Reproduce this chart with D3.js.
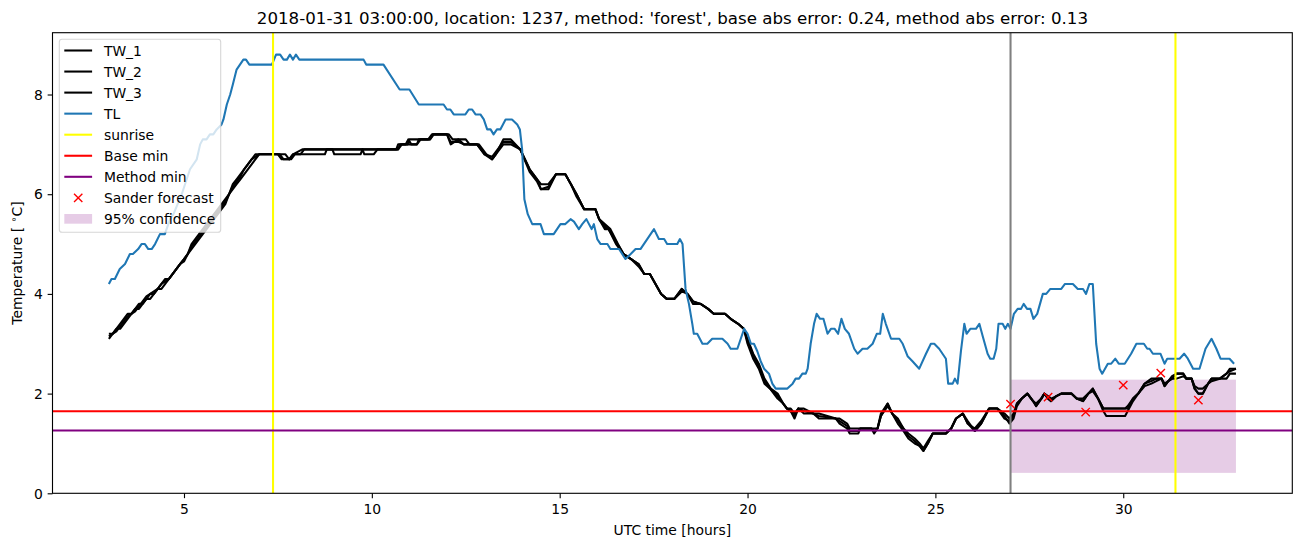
<!DOCTYPE html>
<html><head><meta charset="utf-8">
<script src="https://cdn.jsdelivr.net/npm/d3@7"></script>
<style>body{margin:0;background:#fff} svg{display:block} text{font-family:"DejaVu Sans",sans-serif;fill:#000}</style>
</head><body><svg id="c" width="1302" height="547"></svg>
<script>
const titleText = "2018-01-31 03:00:00, location: 1237, method: 'forest', base abs error: 0.24, method abs error: 0.13";
const xTicks = [5, 10, 15, 20, 25, 30];
const yTicks = [0, 2, 4, 6, 8];
const legendLabels = ["TW_1", "TW_2", "TW_3", "TL", "sunrise", "Base min", "Method min", "Sander forecast", "95% confidence"];
const sunriseHours = [7.37, 31.39];
const forecastStart = 27.0;
const baseMin = 1.646;
const methodMin = 1.26;
const confidence = [27.0, 33.0, 0.41, 2.28]; // start, end, low, high
const forecastHours = [27, 28, 29, 30, 31, 32];
const forecastValues = [1.79, 1.93, 1.63, 2.17, 2.41, 1.87];

const tw1 = [[3.0,3.1],[3.1,3.2],[3.2,3.3],[3.3,3.4],[3.4,3.5],[3.5,3.6],[3.6,3.6],[3.7,3.7],[3.8,3.8],[3.9,3.8],[4.0,3.9],[4.1,4.0],[4.2,4.0],[4.3,4.1],[4.4,4.2],[4.5,4.3],[4.6,4.3],[4.7,4.4],[4.8,4.5],[4.9,4.6],[5.0,4.7],[5.1,4.8],[5.2,4.9],[5.3,5.0],[5.4,5.1],[5.5,5.2],[5.6,5.3],[5.7,5.4],[5.8,5.5],[5.9,5.6],[6.0,5.7],[6.1,5.8],[6.2,6.0],[6.3,6.1],[6.4,6.2],[6.5,6.3],[6.6,6.4],[6.7,6.5],[6.8,6.6],[6.9,6.7],[7.0,6.8],[7.5,6.8],[7.6,6.7],[7.8,6.7],[7.9,6.8],[8.15,6.9],[10.7,6.9],[10.75,7.0],[10.95,7.0],[11.0,7.1],[11.5,7.1],[11.6,7.2],[12.0,7.2],[12.1,7.0],[12.3,7.1],[12.45,7.0],[12.8,7.0],[13.0,6.8],[13.2,6.7],[13.3,6.8],[13.5,7.1],[13.7,7.1],[13.95,6.9],[14.2,6.5],[14.4,6.3],[14.5,6.1],[14.7,6.1],[14.9,6.4],[15.15,6.4],[15.3,6.2],[15.45,6.0],[15.65,5.7],[15.95,5.7],[16.05,5.5],[16.2,5.3],[16.3,5.3],[16.5,5.0],[16.7,4.8],[16.9,4.7],[17.1,4.6],[17.25,4.4],[17.4,4.4],[17.55,4.2],[17.7,4.0],[17.85,3.9],[18.05,3.9],[18.25,4.1],[18.4,4.0],[18.55,3.85],[18.75,3.8],[18.95,3.7],[19.1,3.6],[19.4,3.6],[19.55,3.5],[19.75,3.4],[19.9,3.3],[20.0,3.0],[20.15,2.7],[20.3,2.5],[20.45,2.2],[20.6,2.1],[20.8,1.9],[20.95,1.8],[21.05,1.7],[21.15,1.65],[21.25,1.5],[21.35,1.7],[21.5,1.6],[21.75,1.6],[21.9,1.5],[22.35,1.5],[22.45,1.4],[22.65,1.3],[22.72,1.2],[22.95,1.2],[23.0,1.3],[23.3,1.3],[23.37,1.2],[23.46,1.3],[23.55,1.55],[23.73,1.8],[23.85,1.6],[24.0,1.4],[24.15,1.25],[24.28,1.1],[24.45,1.0],[24.58,0.95],[24.68,0.85],[24.8,1.0],[24.93,1.2],[25.28,1.2],[25.42,1.3],[25.55,1.5],[25.73,1.6],[25.86,1.4],[26.05,1.25],[26.22,1.4],[26.43,1.7],[26.65,1.7],[26.84,1.5],[26.97,1.45],[27.08,1.55],[27.17,1.8],[27.3,1.9],[27.45,2.0],[27.6,1.85],[27.68,1.75],[27.82,1.9],[27.9,2.0],[28.0,1.9],[28.08,1.85],[28.22,1.95],[28.35,2.0],[28.62,2.0],[28.76,1.9],[28.93,1.85],[29.07,2.0],[29.19,2.1],[29.33,1.9],[29.47,1.7],[30.05,1.7],[30.12,1.75],[30.26,1.9],[30.4,2.0],[30.57,2.2],[30.75,2.25],[30.88,2.3],[31.02,2.3],[31.1,2.15],[31.2,2.25],[31.3,2.3],[31.42,2.4],[31.6,2.4],[31.68,2.3],[31.82,2.3],[31.9,2.1],[32.0,2.0],[32.12,2.0],[32.26,2.2],[32.35,2.3],[32.57,2.3],[32.75,2.4],[32.84,2.5],[33.0,2.5]];

const tw2 = [[3.0,3.2],[3.1,3.2],[3.2,3.3],[3.3,3.3],[3.4,3.4],[3.5,3.5],[3.6,3.6],[3.7,3.7],[3.8,3.7],[3.9,3.8],[4.0,3.9],[4.1,3.9],[4.2,4.0],[4.3,4.1],[4.4,4.1],[4.5,4.2],[4.6,4.3],[4.7,4.4],[4.8,4.5],[4.9,4.6],[5.0,4.7],[5.1,4.8],[5.2,5.0],[5.3,5.1],[5.4,5.2],[5.5,5.3],[5.6,5.4],[5.7,5.5],[5.8,5.6],[5.9,5.7],[6.0,5.8],[6.1,5.9],[6.2,6.0],[6.3,6.2],[6.4,6.3],[6.5,6.4],[6.6,6.5],[6.7,6.6],[6.8,6.7],[6.9,6.8],[7.7,6.8],[7.8,6.7],[7.9,6.8],[8.1,6.8],[8.2,6.9],[10.65,6.9],[10.7,7.0],[10.9,7.0],[10.97,7.1],[11.05,7.0],[11.2,7.0],[11.25,7.1],[11.55,7.1],[11.65,7.2],[12.05,7.2],[12.15,7.1],[12.5,7.1],[12.6,7.0],[12.85,7.0],[13.05,6.8],[13.2,6.7],[13.3,6.8],[13.5,7.0],[13.7,7.0],[13.95,6.9],[14.2,6.5],[14.4,6.3],[14.5,6.2],[14.7,6.2],[14.9,6.4],[15.15,6.4],[15.3,6.2],[15.45,6.0],[15.65,5.7],[15.95,5.7],[16.05,5.5],[16.2,5.4],[16.35,5.3],[16.55,5.0],[16.7,4.8],[16.9,4.7],[17.1,4.6],[17.25,4.4],[17.4,4.4],[17.55,4.2],[17.7,4.0],[17.85,3.9],[18.05,3.9],[18.25,4.1],[18.4,4.0],[18.55,3.8],[18.75,3.8],[18.95,3.7],[19.1,3.6],[19.4,3.6],[19.55,3.5],[19.75,3.4],[19.9,3.3],[20.0,3.1],[20.15,2.8],[20.3,2.6],[20.45,2.3],[20.62,2.1],[20.8,2.0],[20.95,1.8],[21.05,1.7],[21.15,1.7],[21.25,1.6],[21.35,1.7],[21.5,1.7],[21.75,1.6],[21.9,1.6],[22.35,1.5],[22.45,1.5],[22.65,1.4],[22.72,1.3],[22.95,1.3],[23.0,1.3],[23.3,1.3],[23.37,1.3],[23.46,1.3],[23.55,1.6],[23.73,1.8],[23.85,1.6],[24.0,1.5],[24.15,1.3],[24.28,1.2],[24.45,1.1],[24.58,1.0],[24.68,0.9],[24.8,1.05],[24.93,1.2],[25.28,1.2],[25.42,1.3],[25.55,1.5],[25.73,1.6],[25.86,1.4],[26.05,1.3],[26.22,1.45],[26.43,1.7],[26.65,1.7],[26.84,1.6],[26.97,1.5],[27.08,1.6],[27.17,1.8],[27.3,1.9],[27.45,2.0],[27.6,1.85],[27.68,1.8],[27.82,1.9],[27.9,2.0],[28.0,1.95],[28.08,1.9],[28.22,1.95],[28.35,2.0],[28.62,2.0],[28.76,1.9],[28.93,1.9],[29.07,2.0],[29.19,2.05],[29.33,1.9],[29.47,1.65],[29.55,1.55],[30.05,1.55],[30.12,1.65],[30.26,1.85],[30.4,2.0],[30.57,2.15],[30.75,2.2],[30.88,2.25],[31.02,2.3],[31.1,2.2],[31.2,2.25],[31.3,2.3],[31.42,2.3],[31.6,2.35],[31.68,2.3],[31.82,2.3],[31.9,2.15],[32.0,2.1],[32.12,2.1],[32.26,2.2],[32.35,2.25],[32.57,2.3],[32.75,2.3],[32.84,2.4],[33.0,2.4]];

const tw3 = [[3.0,3.15],[3.1,3.2],[3.2,3.25],[3.3,3.35],[3.4,3.45],[3.5,3.55],[3.6,3.6],[3.7,3.65],[3.8,3.75],[3.9,3.85],[4.0,3.95],[4.1,4.0],[4.2,4.05],[4.3,4.1],[4.4,4.2],[4.5,4.25],[4.6,4.3],[4.7,4.4],[4.8,4.5],[4.9,4.6],[5.0,4.65],[5.1,4.8],[5.2,4.95],[5.3,5.05],[5.4,5.15],[5.5,5.25],[5.6,5.35],[5.7,5.45],[5.8,5.55],[5.9,5.65],[6.0,5.75],[6.1,5.85],[6.2,6.0],[6.3,6.15],[6.4,6.25],[6.5,6.35],[6.6,6.5],[6.7,6.6],[6.8,6.7],[6.9,6.75],[7.0,6.8],[7.55,6.8],[7.65,6.7],[7.85,6.7],[7.95,6.8],[8.75,6.8],[8.8,6.9],[8.95,6.9],[9.0,6.8],[9.7,6.8],[9.75,6.9],[9.8,6.8],[10.05,6.8],[10.15,6.9],[10.7,6.9],[10.8,7.0],[11.2,7.0],[11.3,7.1],[11.55,7.1],[11.62,7.2],[12.0,7.2],[12.1,7.05],[12.3,7.05],[12.45,7.0],[12.8,7.0],[13.0,6.8],[13.2,6.75],[13.3,6.85],[13.5,7.05],[13.7,7.05],[13.95,6.9],[14.2,6.45],[14.4,6.25],[14.5,6.1],[14.7,6.15],[14.9,6.4],[15.15,6.4],[15.3,6.2],[15.45,5.95],[15.65,5.7],[15.95,5.7],[16.05,5.5],[16.2,5.35],[16.3,5.3],[16.5,5.05],[16.7,4.8],[16.9,4.7],[17.1,4.55],[17.25,4.4],[17.4,4.4],[17.55,4.2],[17.7,4.0],[17.85,3.9],[18.05,3.9],[18.25,4.05],[18.4,4.0],[18.55,3.85],[18.75,3.8],[18.95,3.7],[19.1,3.6],[19.4,3.6],[19.55,3.5],[19.75,3.4],[19.9,3.3],[20.0,3.05],[20.15,2.75],[20.3,2.55],[20.45,2.25],[20.6,2.1],[20.8,1.95],[20.95,1.8],[21.05,1.7],[21.15,1.65],[21.25,1.55],[21.35,1.7],[21.5,1.65],[21.75,1.6],[21.9,1.55],[22.35,1.5],[22.45,1.45],[22.65,1.35],[22.72,1.25],[22.95,1.25],[23.0,1.3],[23.3,1.3],[23.37,1.25],[23.46,1.3],[23.55,1.55],[23.73,1.75],[23.85,1.6],[24.0,1.45],[24.15,1.3],[24.28,1.15],[24.45,1.05],[24.58,0.95],[24.68,0.85],[24.8,1.0],[24.93,1.2],[25.28,1.2],[25.42,1.3],[25.55,1.5],[25.73,1.6],[25.86,1.45],[26.05,1.25],[26.22,1.4],[26.43,1.7],[26.65,1.7],[26.84,1.55],[26.97,1.4],[27.08,1.5],[27.17,1.75],[27.3,1.9],[27.45,2.0],[27.6,1.85],[27.68,1.75],[27.82,1.9],[27.9,2.0],[28.0,1.9],[28.08,1.85],[28.22,1.95],[28.35,2.0],[28.62,2.0],[28.76,1.9],[28.93,1.85],[29.07,2.0],[29.19,2.1],[29.33,1.9],[29.47,1.7],[30.05,1.7],[30.12,1.7],[30.26,1.9],[30.4,2.0],[30.57,2.2],[30.75,2.3],[30.88,2.3],[31.02,2.3],[31.1,2.15],[31.2,2.25],[31.3,2.35],[31.42,2.4],[31.6,2.4],[31.68,2.3],[31.82,2.3],[31.9,2.1],[32.0,2.0],[32.12,2.0],[32.26,2.2],[32.35,2.3],[32.57,2.3],[32.75,2.4],[32.84,2.45],[33.0,2.5]];

const tl = [[3.0,4.2],[3.07,4.3],[3.16,4.3],[3.29,4.5],[3.43,4.6],[3.56,4.8],[3.64,4.8],[3.78,4.9],[3.87,5.0],[3.96,5.0],[4.05,4.9],[4.14,4.9],[4.23,5.0],[4.36,5.2],[4.49,5.2],[4.63,5.5],[4.72,5.6],[4.94,6.0],[5.16,6.5],[5.34,6.7],[5.43,7.0],[5.5,7.1],[5.6,7.1],[5.69,7.2],[5.78,7.2],[5.87,7.3],[6.0,7.4],[6.05,7.5],[6.14,7.8],[6.23,8.0],[6.3,8.2],[6.4,8.5],[6.49,8.6],[6.58,8.7],[6.65,8.7],[6.74,8.6],[7.34,8.6],[7.45,8.8],[7.56,8.8],[7.65,8.7],[7.74,8.7],[7.82,8.8],[7.9,8.7],[7.98,8.8],[8.07,8.7],[9.78,8.7],[9.85,8.6],[10.31,8.6],[10.74,8.1],[11.0,8.1],[11.25,7.8],[11.91,7.8],[12.0,7.7],[12.09,7.7],[12.18,7.6],[12.49,7.6],[12.58,7.7],[12.67,7.7],[12.76,7.6],[12.89,7.6],[12.98,7.5],[13.07,7.3],[13.16,7.3],[13.24,7.2],[13.33,7.3],[13.42,7.3],[13.56,7.5],[13.73,7.5],[13.87,7.4],[13.94,7.3],[14.0,6.9],[14.06,5.9],[14.15,5.6],[14.27,5.4],[14.49,5.4],[14.58,5.2],[14.84,5.2],[15.02,5.4],[15.15,5.4],[15.29,5.5],[15.38,5.45],[15.51,5.3],[15.6,5.4],[15.71,5.5],[15.78,5.4],[15.85,5.3],[15.91,5.4],[16.0,5.1],[16.09,5.0],[16.27,5.0],[16.35,4.9],[16.58,4.9],[16.75,4.7],[16.89,4.8],[17.02,4.9],[17.15,4.9],[17.33,5.1],[17.51,5.3],[17.64,5.1],[17.78,5.1],[17.86,5.0],[18.13,5.0],[18.2,5.1],[18.27,5.0],[18.35,4.1],[18.44,3.8],[18.53,3.4],[18.57,3.2],[18.66,3.2],[18.8,3.0],[18.93,3.0],[19.06,3.1],[19.33,3.1],[19.47,3.0],[19.55,2.9],[19.73,2.9],[19.82,3.1],[19.91,3.3],[20.0,3.2],[20.09,3.0],[20.17,3.0],[20.26,2.85],[20.35,2.65],[20.44,2.5],[20.57,2.4],[20.66,2.2],[20.75,2.1],[21.06,2.1],[21.2,2.2],[21.28,2.3],[21.37,2.3],[21.46,2.4],[21.55,2.4],[21.6,2.5],[21.68,3.0],[21.77,3.4],[21.84,3.6],[21.93,3.5],[22.02,3.5],[22.13,3.2],[22.22,3.3],[22.32,3.3],[22.41,3.2],[22.5,3.5],[22.59,3.3],[22.7,3.2],[22.84,2.9],[22.93,2.8],[23.06,2.9],[23.19,2.9],[23.33,3.0],[23.44,3.2],[23.53,3.2],[23.6,3.6],[23.68,3.4],[23.82,3.1],[23.9,3.1],[24.04,3.1],[24.13,3.0],[24.26,2.75],[24.39,2.65],[24.57,2.5],[24.75,2.8],[24.88,3.0],[24.97,3.0],[25.1,2.9],[25.28,2.7],[25.34,2.2],[25.46,2.2],[25.52,2.3],[25.59,2.2],[25.68,2.85],[25.77,3.4],[25.83,3.2],[25.93,3.3],[26.08,3.3],[26.17,3.4],[26.26,3.15],[26.39,2.8],[26.46,2.7],[26.55,2.7],[26.62,2.9],[26.68,3.4],[26.79,3.4],[26.86,3.3],[26.93,3.4],[27.0,3.3],[27.09,3.6],[27.19,3.7],[27.28,3.7],[27.35,3.8],[27.44,3.7],[27.53,3.7],[27.61,3.5],[27.71,3.6],[27.86,4.0],[27.95,4.0],[28.06,4.1],[28.35,4.1],[28.45,4.2],[28.66,4.2],[28.79,4.1],[28.93,4.1],[29.01,4.0],[29.1,4.2],[29.19,4.2],[29.28,3.0],[29.37,2.5],[29.44,2.4],[29.59,2.6],[29.68,2.6],[29.79,2.7],[29.88,2.6],[30.04,2.6],[30.21,2.8],[30.35,3.0],[30.55,3.0],[30.64,2.9],[30.7,2.9],[30.79,2.8],[30.99,2.8],[31.1,2.6],[31.17,2.7],[31.5,2.7],[31.62,2.8],[31.72,2.7],[31.86,2.5],[32.03,2.5],[32.19,2.9],[32.35,3.1],[32.48,2.9],[32.59,2.7],[32.83,2.7],[32.95,2.6]];

const W = 1302, H = 547;
const L = 52.5, R = 1292.3, T = 32.7, B = 493.3;
const svg = d3.select("#c");
const x = d3.scaleLinear().domain([1.5, 34.5]).range([L, R]);
const y = d3.scaleLinear().domain([0, 9.24]).range([B, T]);
const LW = 2.08;
const FS = 13.9;

svg.append("rect").attr("width", W).attr("height", H).attr("fill", "#fff");
svg.append("defs").append("clipPath").attr("id", "clip")
  .append("rect").attr("x", L).attr("y", T).attr("width", R - L).attr("height", B - T);
const plot = svg.append("g").attr("clip-path", "url(#clip)");

// confidence band
plot.append("rect")
  .attr("x", x(confidence[0])).attr("y", y(confidence[3]))
  .attr("width", x(confidence[1]) - x(confidence[0]))
  .attr("height", y(confidence[2]) - y(confidence[3]))
  .attr("fill", "purple").attr("fill-opacity", 0.2);

const line = d3.line().x(d => x(d[0])).y(d => y(d[1]));
[tw1, tw2, tw3].forEach(s => {
  plot.append("path").attr("d", line(s)).attr("fill", "none").attr("stroke", "#000")
    .attr("stroke-width", LW).attr("stroke-linejoin", "round");
});
plot.append("path").attr("d", line(tl)).attr("fill", "none").attr("stroke", "#1f77b4")
  .attr("stroke-width", LW).attr("stroke-linejoin", "round");

sunriseHours.forEach(h => {
  plot.append("line").attr("x1", x(h)).attr("x2", x(h)).attr("y1", T).attr("y2", B)
    .attr("stroke", "#ffff00").attr("stroke-width", LW);
});
plot.append("line").attr("x1", L).attr("x2", R).attr("y1", y(baseMin)).attr("y2", y(baseMin))
  .attr("stroke", "#ff0000").attr("stroke-width", LW);
plot.append("line").attr("x1", L).attr("x2", R).attr("y1", y(methodMin)).attr("y2", y(methodMin))
  .attr("stroke", "#800080").attr("stroke-width", LW);
plot.append("line").attr("x1", x(forecastStart)).attr("x2", x(forecastStart)).attr("y1", T).attr("y2", B)
  .attr("stroke", "#808080").attr("stroke-width", LW);

const ms = 4.17;
function xMark(g, cx, cy) {
  g.append("path").attr("d", `M${cx-ms},${cy-ms}L${cx+ms},${cy+ms}M${cx-ms},${cy+ms}L${cx+ms},${cy-ms}`)
    .attr("stroke", "#ff0000").attr("stroke-width", 1.39).attr("fill", "none");
}
forecastHours.forEach((h, i) => xMark(plot, x(h), y(forecastValues[i])));

// axes
const tick = 4.86;
const xAxis = svg.append("g").attr("transform", `translate(0,${B})`)
  .call(d3.axisBottom(x).tickValues(xTicks).tickSize(tick).tickPadding(tick).tickFormat(d3.format("d")));
const yAxis = svg.append("g").attr("transform", `translate(${L},0)`)
  .call(d3.axisLeft(y).tickValues(yTicks).tickSize(tick).tickPadding(tick).tickFormat(d3.format("d")));
[xAxis, yAxis].forEach(a => {
  a.select(".domain").remove();
  a.selectAll(".tick line").attr("stroke", "#000").attr("stroke-width", 1.11);
  a.selectAll(".tick text").attr("font-size", FS).attr("font-family", "DejaVu Sans").attr("fill", "#000");
});
xAxis.selectAll(".tick text").attr("dy", "0.76em");
yAxis.selectAll(".tick text").attr("dy", "0.34em");

svg.append("rect").attr("x", L).attr("y", T).attr("width", R - L).attr("height", B - T)
  .attr("fill", "none").attr("stroke", "#000").attr("stroke-width", 1.11);

// labels
svg.append("text").attr("x", (L + R) / 2).attr("y", 24).attr("text-anchor", "middle")
  .attr("font-size", 16.67).text(titleText);
svg.append("text").attr("x", (L + R) / 2).attr("y", 535).attr("text-anchor", "middle")
  .attr("font-size", FS).text("UTC time [hours]");
const yl = svg.append("text").attr("transform", `translate(22,${(T + B) / 2}) rotate(-90)`)
  .attr("text-anchor", "middle").attr("font-size", FS);
yl.append("tspan").text("Temperature [ ");
yl.append("tspan").attr("font-size", FS * 0.7).attr("dy", -5).text("∘");
yl.append("tspan").attr("dy", 5).text("C]");

// legend
const lg = svg.append("g");
lg.append("rect").attr("x", 59.3).attr("y", 39.3).attr("width", 161.4).attr("height", 193)
  .attr("rx", 2.8).attr("fill", "#fff").attr("fill-opacity", 0.8)
  .attr("stroke", "#cccccc").attr("stroke-opacity", 0.8).attr("stroke-width", 1.1);
const legColors = ["#000", "#000", "#000", "#1f77b4", "#ffff00", "#ff0000", "#800080"];
legendLabels.forEach((lab, i) => {
  const cy = 50.5 + i * 21.05;
  if (i < 7) {
    lg.append("line").attr("x1", 64.3).attr("x2", 92.1).attr("y1", cy).attr("y2", cy)
      .attr("stroke", legColors[i]).attr("stroke-width", LW);
  } else if (i === 7) {
    xMark(lg, 78.2, cy);
  } else {
    lg.append("rect").attr("x", 64.3).attr("y", cy - 4.9).attr("width", 27.8).attr("height", 9.7)
      .attr("fill", "purple").attr("fill-opacity", 0.2);
  }
  lg.append("text").attr("x", 103.9).attr("y", cy).attr("dy", "0.36em").attr("font-size", FS).text(lab);
});
</script>
</body></html>
